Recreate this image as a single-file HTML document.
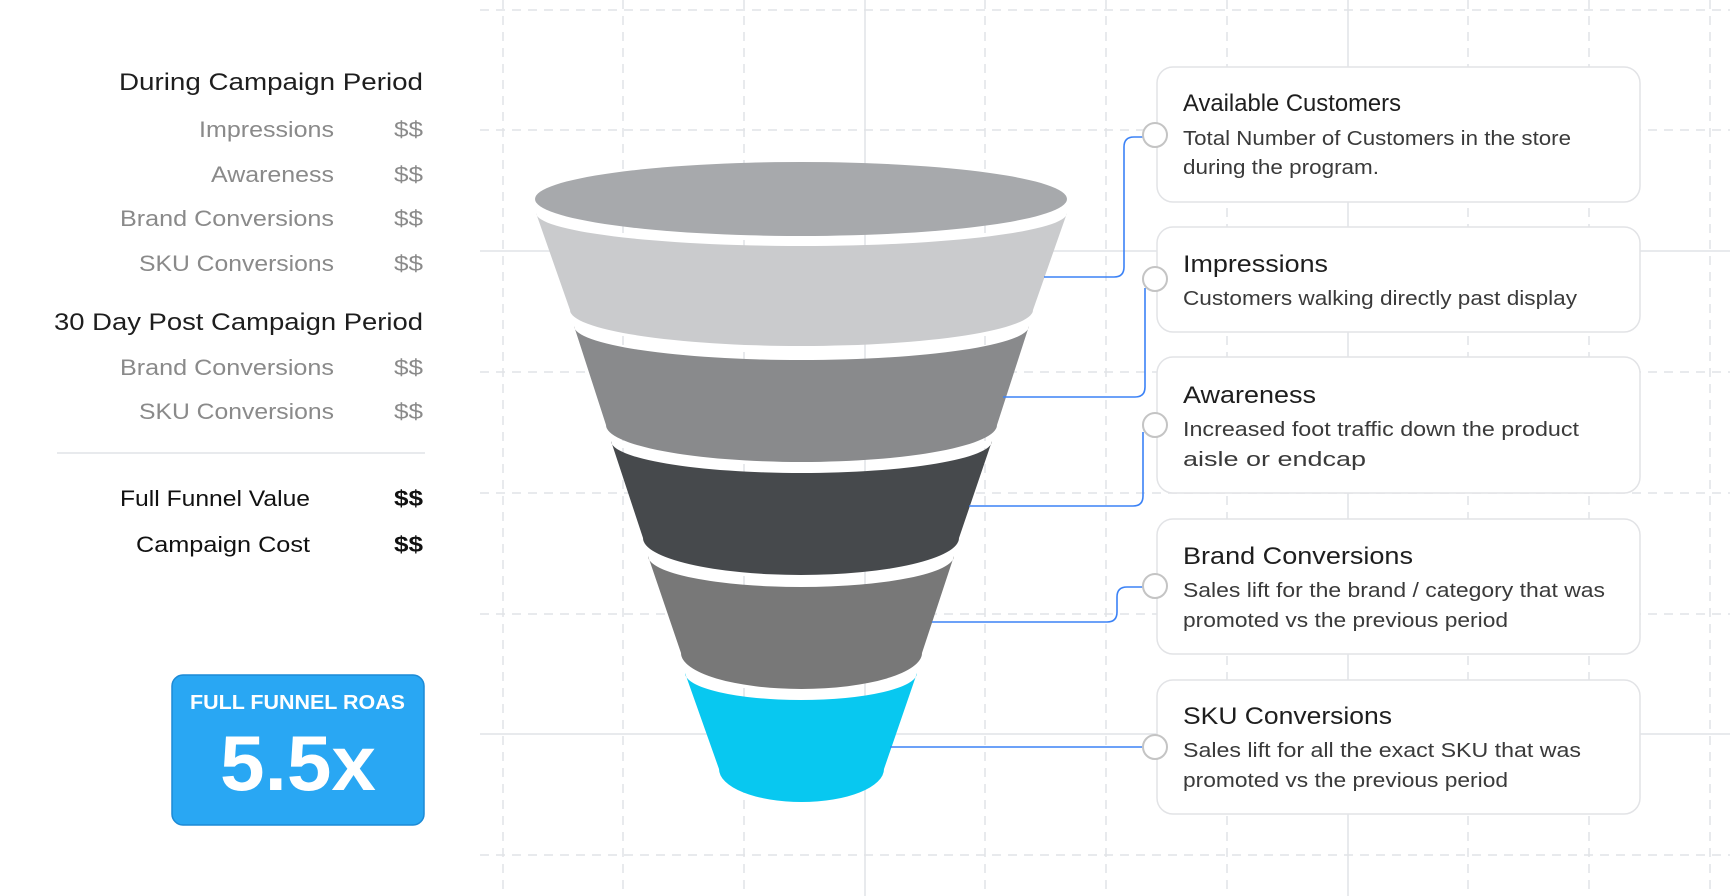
<!DOCTYPE html>
<html><head><meta charset="utf-8"><style>
html,body{margin:0;padding:0;background:#fff;width:1730px;height:896px;overflow:hidden}
svg{display:block}
text{font-family:"Liberation Sans",sans-serif}
</style></head><body>
<svg width="1730" height="896" viewBox="0 0 1730 896" xmlns="http://www.w3.org/2000/svg">
<g stroke="#e1e3e7" stroke-width="1.5" fill="none">
  <g stroke-dasharray="9 7">
    <line x1="503" y1="0" x2="503" y2="896"/>
    <line x1="623" y1="0" x2="623" y2="896"/>
    <line x1="744" y1="0" x2="744" y2="896"/>
    <line x1="985" y1="0" x2="985" y2="896"/>
    <line x1="1106" y1="0" x2="1106" y2="896"/>
    <line x1="1227" y1="0" x2="1227" y2="896"/>
    <line x1="1468" y1="0" x2="1468" y2="896"/>
    <line x1="1589" y1="0" x2="1589" y2="896"/>
    <line x1="1710" y1="0" x2="1710" y2="896"/>
    <line x1="480" y1="10" x2="1730" y2="10"/>
    <line x1="480" y1="130" x2="1730" y2="130"/>
    <line x1="480" y1="372" x2="1730" y2="372"/>
    <line x1="480" y1="493" x2="1730" y2="493"/>
    <line x1="480" y1="614" x2="1730" y2="614"/>
    <line x1="480" y1="855" x2="1730" y2="855"/>
  </g>
  <line x1="865" y1="0" x2="865" y2="896"/>
  <line x1="1348" y1="0" x2="1348" y2="896"/>
  <line x1="480" y1="251" x2="1730" y2="251"/>
  <line x1="480" y1="734" x2="1730" y2="734"/>
</g>

<!-- funnel -->
<ellipse cx="801" cy="199" rx="266" ry="37" fill="#a7a9ac"/>
<path d="M536 213 A265.5 33 0 0 0 1067 213 L1033 310 A231.5 36 0 0 1 570 310 Z" fill="#cacbcd"/>
<path d="M574 326 A227.5 34 0 0 0 1029 326 L997 425 A195.5 37 0 0 1 606 425 Z" fill="#898a8c"/>
<path d="M611 441 A190.5 32 0 0 0 992 441 L959 538 A158 37 0 0 1 643 538 Z" fill="#46494c"/>
<path d="M648 556 A153 31 0 0 0 954 556 L922 653 A120.5 36 0 0 1 681 653 Z" fill="#787878"/>
<path d="M685 673 A116 27 0 0 0 917 673 L884 769 A82.5 33 0 0 1 719 769 Z" fill="#08c8f0"/>

<!-- connectors -->
<g stroke="#3b82f6" stroke-width="1.6" fill="none">
  <path d="M1044 277 H1114 Q1124 277 1124 267 V147 Q1124 137 1134 137 H1146"/>
  <path d="M1003 397 H1135 Q1145 397 1145 387 V288"/>
  <path d="M969 506 H1133 Q1143 506 1143 496 V432"/>
  <path d="M932 622 H1107 Q1117 622 1117 612 V597 Q1117 587 1127 587 H1145"/>
  <path d="M890 747 H1145"/>
</g>

<!-- cards -->
<g fill="#fff" stroke="#e2e3e6" stroke-width="1.5">
  <rect x="1157" y="67" width="483" height="135" rx="16"/>
  <rect x="1157" y="227" width="483" height="105" rx="16"/>
  <rect x="1157" y="357" width="483" height="136" rx="16"/>
  <rect x="1157" y="519" width="483" height="135" rx="16"/>
  <rect x="1157" y="680" width="483" height="134" rx="16"/>
</g>
<g fill="#fff" stroke="#c4c4c4" stroke-width="2">
  <circle cx="1155" cy="135" r="12"/>
  <circle cx="1155" cy="279" r="12"/>
  <circle cx="1155" cy="425" r="12"/>
  <circle cx="1155" cy="586" r="12"/>
  <circle cx="1155" cy="747" r="12"/>
</g>
<g font-size="24" fill="#1e1e1e" lengthAdjust="spacingAndGlyphs">
  <text x="1183" y="111" textLength="218" lengthAdjust="spacingAndGlyphs">Available Customers</text>
  <text x="1183" y="272" textLength="145" lengthAdjust="spacingAndGlyphs">Impressions</text>
  <text x="1183" y="403" textLength="133" lengthAdjust="spacingAndGlyphs">Awareness</text>
  <text x="1183" y="564" textLength="230" lengthAdjust="spacingAndGlyphs">Brand Conversions</text>
  <text x="1183" y="724" textLength="209" lengthAdjust="spacingAndGlyphs">SKU Conversions</text>
</g>
<g font-size="20" fill="#3a3a3a">
  <text x="1183" y="145" textLength="388" lengthAdjust="spacingAndGlyphs">Total Number of Customers in the store</text>
  <text x="1183" y="174" textLength="196" lengthAdjust="spacingAndGlyphs">during the program.</text>
  <text x="1183" y="305" textLength="394" lengthAdjust="spacingAndGlyphs">Customers walking directly past display</text>
  <text x="1183" y="436" textLength="396" lengthAdjust="spacingAndGlyphs">Increased foot traffic down the product</text>
  <text x="1183" y="466" textLength="183" lengthAdjust="spacingAndGlyphs">aisle or endcap</text>
  <text x="1183" y="597" textLength="422" lengthAdjust="spacingAndGlyphs">Sales lift for the brand / category that was</text>
  <text x="1183" y="627" textLength="325" lengthAdjust="spacingAndGlyphs">promoted vs the previous period</text>
  <text x="1183" y="757" textLength="398" lengthAdjust="spacingAndGlyphs">Sales lift for all the exact SKU that was</text>
  <text x="1183" y="787" textLength="325" lengthAdjust="spacingAndGlyphs">promoted vs the previous period</text>
</g>

<!-- left panel -->
<g font-size="24" fill="#1e1e1e">
  <text x="119" y="90" textLength="304" lengthAdjust="spacingAndGlyphs">During Campaign Period</text>
  <text x="54" y="330" textLength="369" lengthAdjust="spacingAndGlyphs">30 Day Post Campaign Period</text>
</g>
<g font-size="22" fill="#8a8a8a">
  <text x="199" y="137" textLength="135" lengthAdjust="spacingAndGlyphs">Impressions</text>
  <text x="211" y="182" textLength="123" lengthAdjust="spacingAndGlyphs">Awareness</text>
  <text x="120" y="226" textLength="214" lengthAdjust="spacingAndGlyphs">Brand Conversions</text>
  <text x="139" y="271" textLength="195" lengthAdjust="spacingAndGlyphs">SKU Conversions</text>
  <text x="120" y="375" textLength="214" lengthAdjust="spacingAndGlyphs">Brand Conversions</text>
  <text x="139" y="419" textLength="195" lengthAdjust="spacingAndGlyphs">SKU Conversions</text>
  <text x="394" y="137" textLength="29" lengthAdjust="spacingAndGlyphs">$$</text>
  <text x="394" y="182" textLength="29" lengthAdjust="spacingAndGlyphs">$$</text>
  <text x="394" y="226" textLength="29" lengthAdjust="spacingAndGlyphs">$$</text>
  <text x="394" y="271" textLength="29" lengthAdjust="spacingAndGlyphs">$$</text>
  <text x="394" y="375" textLength="29" lengthAdjust="spacingAndGlyphs">$$</text>
  <text x="394" y="419" textLength="29" lengthAdjust="spacingAndGlyphs">$$</text>
</g>
<line x1="57" y1="453" x2="425" y2="453" stroke="#e1e3e7" stroke-width="1.5"/>
<g font-size="22" fill="#111">
  <text x="120" y="506" textLength="190" lengthAdjust="spacingAndGlyphs">Full Funnel Value</text>
  <text x="136" y="552" textLength="174" lengthAdjust="spacingAndGlyphs">Campaign Cost</text>
  <text x="394" y="506" textLength="29" lengthAdjust="spacingAndGlyphs" font-weight="bold">$$</text>
  <text x="394" y="552" textLength="29" lengthAdjust="spacingAndGlyphs" font-weight="bold">$$</text>
</g>
<rect x="172" y="675" width="252" height="150" rx="11" fill="#29a7f3" stroke="#1c8ad6" stroke-width="1.5"/>
<text x="190" y="709" font-size="20" font-weight="bold" fill="#fff" textLength="215" lengthAdjust="spacingAndGlyphs">FULL FUNNEL ROAS</text>
<text x="220" y="790" font-size="78" font-weight="bold" fill="#fff" textLength="156" lengthAdjust="spacingAndGlyphs">5.5x</text>
</svg>
</body></html>
